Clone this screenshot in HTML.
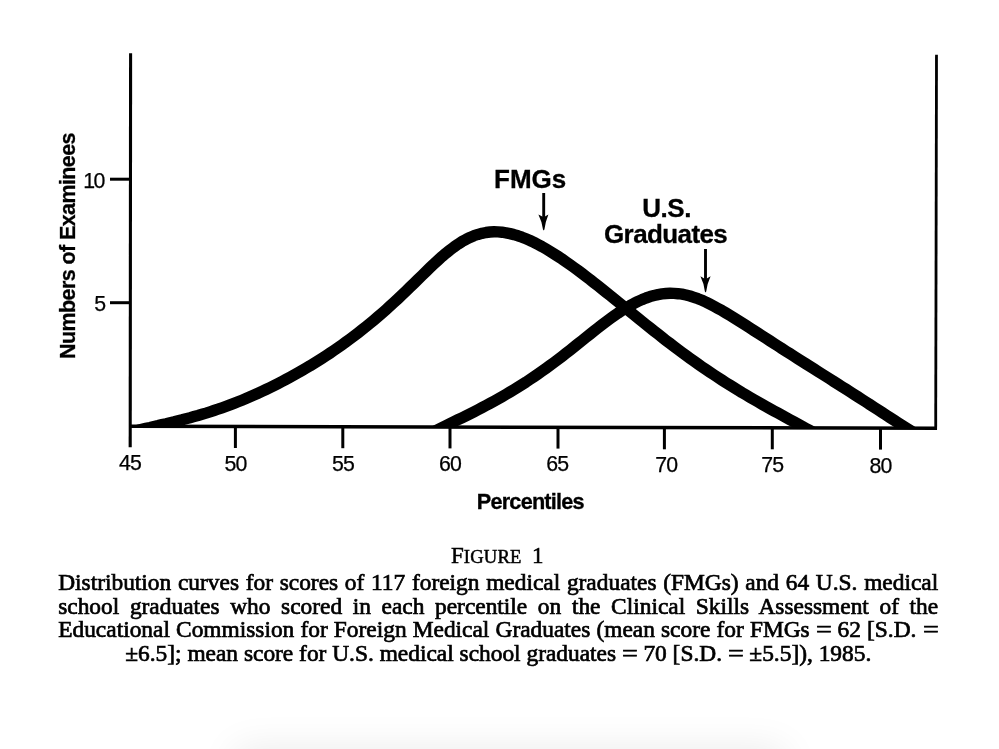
<!DOCTYPE html>
<html lang="en">
<head>
<meta charset="utf-8">
<title>Figure 1</title>
<style>
html,body{margin:0;padding:0;background:#fff;}
body{width:999px;height:749px;position:relative;overflow:hidden;color:#000;}
#page{position:absolute;left:0;top:0;width:999px;height:749px;filter:blur(0.45px);}
#chart{position:absolute;left:0;top:0;width:999px;height:749px;}
.sans{font-family:"Liberation Sans",sans-serif;}
.serif{font-family:"Liberation Serif",serif;}
.tick{position:absolute;font-family:"Liberation Sans",sans-serif;font-size:21.3px;line-height:20px;white-space:nowrap;letter-spacing:-0.8px;-webkit-text-stroke:0.25px #000;}
.xt{width:60px;text-align:center;top:452px;}
.yt{width:40px;text-align:right;}
.lab{position:absolute;font-family:"Liberation Sans",sans-serif;font-weight:bold;white-space:nowrap;-webkit-text-stroke:0.3px #000;}
.cap{position:absolute;font-family:"Liberation Serif",serif;font-size:23.4px;line-height:24px;white-space:nowrap;left:58.2px;width:880px;-webkit-text-stroke:0.7px #000;text-align:justify;text-align-last:justify;}
.eq{display:inline-block;width:15.6px;transform:scaleX(1.2);transform-origin:0 50%;text-align:left;}
#shadow{position:absolute;left:244px;top:757px;width:532px;height:30px;background:#ccc;box-shadow:0 0 38px 8px rgba(0,0,0,0.085);}
</style>
</head>
<body>
<div id="shadow"></div>
<div id="page">
<svg id="chart" viewBox="0 0 999 749">
  <defs><clipPath id="cp"><path d="M0 0 H999 V428 L0 426 Z"/></clipPath></defs>
  <!-- axes -->
  <g stroke="#000" fill="none">
    <line x1="130.6" y1="53.3" x2="130.2" y2="447.3" stroke-width="3.1"/>
    <line x1="936.5" y1="54.8" x2="935.7" y2="429.6" stroke-width="2.8"/>
    <line x1="129" y1="426.3" x2="937" y2="428.2" stroke-width="3.5"/>
    <line x1="110" y1="179.2" x2="130" y2="179.2" stroke-width="3"/>
    <line x1="110" y1="302.7" x2="130" y2="302.7" stroke-width="3"/>
    <g stroke-width="3">
      <line x1="235.4" y1="426" x2="235.4" y2="448"/>
      <line x1="342.8" y1="426" x2="342.8" y2="448.2"/>
      <line x1="450" y1="426" x2="450" y2="448.4"/>
      <line x1="558" y1="426" x2="558" y2="448.6"/>
      <line x1="664.4" y1="426" x2="664.4" y2="449.3"/>
      <line x1="772.3" y1="427" x2="772.3" y2="449.3"/>
      <line x1="880.5" y1="427" x2="880.5" y2="449.6"/>
    </g>
  </g>
  <g clip-path="url(#cp)" stroke="#000" stroke-width="11.4" fill="none" stroke-linejoin="round">
    <path d="M110.0 438.8 L114.0 437.4 L118.0 436.1 L122.0 434.8 L126.0 433.7 L130.0 432.5 L134.0 431.5 L138.0 430.4 L142.0 429.4 L146.0 428.4 L150.0 427.5 L154.0 426.5 L158.0 425.6 L162.0 424.6 L166.0 423.7 L170.0 422.7 L174.0 421.8 L178.0 420.8 L182.0 419.8 L186.0 418.7 L190.0 417.7 L194.0 416.6 L198.0 415.5 L202.0 414.3 L206.0 413.1 L210.0 411.8 L214.0 410.5 L218.0 409.2 L222.0 407.8 L226.0 406.4 L230.0 404.9 L234.0 403.4 L238.0 401.8 L242.0 400.2 L246.0 398.5 L250.0 396.8 L254.0 395.1 L258.0 393.3 L262.0 391.4 L266.0 389.5 L270.0 387.6 L274.0 385.6 L278.0 383.6 L282.0 381.5 L286.0 379.4 L290.0 377.2 L294.0 375.0 L298.0 372.8 L302.0 370.5 L306.0 368.1 L310.0 365.8 L314.0 363.3 L318.0 360.8 L322.0 358.3 L326.0 355.7 L330.0 353.1 L334.0 350.4 L338.0 347.6 L342.0 344.8 L346.0 341.9 L350.0 339.0 L354.0 336.0 L358.0 332.9 L362.0 329.8 L366.0 326.6 L370.0 323.4 L374.0 320.1 L378.0 316.7 L382.0 313.2 L386.0 309.7 L390.0 306.1 L394.0 302.4 L398.0 298.7 L402.0 294.9 L406.0 291.1 L410.0 287.2 L414.0 283.3 L418.0 279.4 L422.0 275.5 L426.0 271.6 L430.0 267.7 L434.0 263.9 L438.0 260.2 L442.0 256.6 L446.0 253.2 L450.0 250.0 L454.0 247.0 L458.0 244.2 L462.0 241.6 L466.0 239.4 L470.0 237.4 L474.0 235.7 L478.0 234.4 L482.0 233.3 L486.0 232.5 L490.0 232.0 L494.0 231.8 L498.0 231.9 L502.0 232.2 L506.0 232.8 L510.0 233.6 L514.0 234.6 L518.0 235.8 L522.0 237.2 L526.0 238.8 L530.0 240.5 L534.0 242.4 L538.0 244.5 L542.0 246.6 L546.0 248.9 L550.0 251.3 L554.0 253.8 L558.0 256.4 L562.0 259.0 L566.0 261.8 L570.0 264.6 L574.0 267.5 L578.0 270.4 L582.0 273.4 L586.0 276.5 L590.0 279.5 L594.0 282.7 L598.0 285.8 L602.0 289.0 L606.0 292.2 L610.0 295.4 L614.0 298.7 L618.0 301.9 L622.0 305.2 L626.0 308.4 L630.0 311.7 L634.0 314.9 L638.0 318.2 L642.0 321.4 L646.0 324.6 L650.0 327.8 L654.0 331.0 L658.0 334.1 L662.0 337.3 L666.0 340.4 L670.0 343.4 L674.0 346.5 L678.0 349.5 L682.0 352.5 L686.0 355.4 L690.0 358.3 L694.0 361.2 L698.0 364.0 L702.0 366.8 L706.0 369.5 L710.0 372.2 L714.0 374.9 L718.0 377.5 L722.0 380.1 L726.0 382.7 L730.0 385.2 L734.0 387.7 L738.0 390.1 L742.0 392.6 L746.0 394.9 L750.0 397.3 L754.0 399.6 L758.0 401.9 L762.0 404.2 L766.0 406.4 L770.0 408.7 L774.0 410.9 L778.0 413.1 L782.0 415.3 L786.0 417.5 L790.0 419.7 L794.0 421.8 L798.0 424.0 L802.0 426.2 L806.0 428.4 L810.0 430.6 L814.0 432.9 L818.0 435.2 L822.0 437.5"/>
    <path d="M410.0 444.1 L414.0 441.9 L418.0 439.7 L422.0 437.6 L426.0 435.5 L430.0 433.5 L434.0 431.5 L438.0 429.5 L442.0 427.5 L446.0 425.6 L450.0 423.6 L454.0 421.7 L458.0 419.7 L462.0 417.8 L466.0 415.8 L470.0 413.8 L474.0 411.8 L478.0 409.7 L482.0 407.6 L486.0 405.5 L490.0 403.4 L494.0 401.2 L498.0 399.0 L502.0 396.7 L506.0 394.4 L510.0 392.0 L514.0 389.6 L518.0 387.1 L522.0 384.6 L526.0 382.1 L530.0 379.4 L534.0 376.7 L538.0 374.0 L542.0 371.2 L546.0 368.3 L550.0 365.4 L554.0 362.5 L558.0 359.5 L562.0 356.4 L566.0 353.3 L570.0 350.2 L574.0 347.0 L578.0 343.8 L582.0 340.6 L586.0 337.4 L590.0 334.2 L594.0 331.1 L598.0 327.9 L602.0 324.8 L606.0 321.8 L610.0 318.8 L614.0 315.9 L618.0 313.1 L622.0 310.5 L626.0 308.0 L630.0 305.6 L634.0 303.4 L638.0 301.4 L642.0 299.6 L646.0 298.0 L650.0 296.6 L654.0 295.5 L658.0 294.6 L662.0 293.9 L666.0 293.5 L670.0 293.3 L674.0 293.4 L678.0 293.7 L682.0 294.2 L686.0 295.0 L690.0 296.0 L694.0 297.3 L698.0 298.7 L702.0 300.3 L706.0 302.1 L710.0 304.1 L714.0 306.2 L718.0 308.4 L722.0 310.6 L726.0 313.0 L730.0 315.4 L734.0 317.9 L738.0 320.4 L742.0 322.9 L746.0 325.4 L750.0 328.0 L754.0 330.6 L758.0 333.1 L762.0 335.7 L766.0 338.3 L770.0 340.9 L774.0 343.5 L778.0 346.0 L782.0 348.6 L786.0 351.2 L790.0 353.7 L794.0 356.3 L798.0 358.8 L802.0 361.3 L806.0 363.9 L810.0 366.4 L814.0 368.9 L818.0 371.5 L822.0 374.0 L826.0 376.5 L830.0 379.0 L834.0 381.6 L838.0 384.1 L842.0 386.7 L846.0 389.2 L850.0 391.8 L854.0 394.3 L858.0 396.9 L862.0 399.5 L866.0 402.0 L870.0 404.6 L874.0 407.2 L878.0 409.8 L882.0 412.4 L886.0 415.0 L890.0 417.6 L894.0 420.1 L898.0 422.7 L902.0 425.3 L906.0 427.8 L910.0 430.4 L914.0 432.9 L918.0 435.4"/>
  </g>
  <!-- arrows -->
  <g stroke="#000" stroke-width="2" fill="#000">
    <line x1="543.7" y1="193" x2="543.7" y2="219" stroke-width="2.9"/>
    <path d="M538.4 214.4 Q542 221.5 543 229.6 Q543.7 231.2 544.4 229.6 Q545.4 221.5 548.4 214.4 L543.7 217.3 Z" stroke="none"/>
    <line x1="705.5" y1="249" x2="705.5" y2="281" stroke-width="2.9"/>
    <path d="M700.4 276.3 Q704 283.5 704.9 291.6 Q705.5 293.2 706.2 291.6 Q707.2 283.5 710.6 276.3 L705.5 279.2 Z" stroke="none"/>
  </g>
</svg>

<div class="tick xt" style="left:100px;top:453.2px;">45</div>
<div class="tick xt" style="left:205.5px;top:453.6px;">50</div>
<div class="tick xt" style="left:313px;top:454px;">55</div>
<div class="tick xt" style="left:420px;top:454.4px;">60</div>
<div class="tick xt" style="left:527.3px;top:454.4px;">65</div>
<div class="tick xt" style="left:636.2px;top:454.6px;">70</div>
<div class="tick xt" style="left:742.2px;top:455.2px;">75</div>
<div class="tick xt" style="left:850.5px;top:455.8px;">80</div>
<div class="tick yt" style="left:63.6px;top:170.8px;letter-spacing:-1.7px;">10</div>
<div class="tick yt" style="left:65.3px;top:294.3px;">5</div>

<div class="lab" style="font-size:21.5px;line-height:20px;letter-spacing:-0.6px;left:68.3px;top:246px;width:0;height:0;"><div style="position:absolute;left:0;top:0;transform:translate(-50%,-50%) rotate(-90deg);">Numbers of Examinees</div></div>

<div class="lab" style="font-size:26px;line-height:25px;left:494px;top:167px;">FMGs</div>
<div class="lab" style="font-size:26px;letter-spacing:-0.5px;line-height:24px;left:642.3px;top:195.8px;">U.S.</div>
<div class="lab" style="font-size:26px;letter-spacing:-0.6px;line-height:24px;left:604px;top:221.7px;">Graduates</div>
<div class="lab" style="font-size:21.7px;letter-spacing:-0.8px;line-height:20px;left:476.8px;top:492.3px;">Percentiles</div>

<div class="serif" style="position:absolute;left:451px;top:544px;font-size:23px;line-height:24px;white-space:nowrap;-webkit-text-stroke:0.5px #000;">F<span style="font-size:18.6px;letter-spacing:0.2px;">IGURE</span><span style="letter-spacing:-0.6px;">&nbsp; </span>1</div>
<div class="cap" style="top:569.8px;">Distribution curves for scores of 117 foreign medical graduates (FMGs) and 64 U.S. medical</div>
<div class="cap" style="top:593.8px;">school graduates who scored in each percentile on the Clinical Skills Assessment of the</div>
<div class="cap" style="top:617.3px;">Educational Commission for Foreign Medical Graduates (mean score for FMGs <span class="eq">=</span> 62 [S.D. <span class="eq">=</span></div>
<div class="cap" style="top:641.3px;left:125.2px;width:746px;">±6.5]; mean score for U.S. medical school graduates <span class="eq">=</span> 70 [S.D. <span class="eq">=</span> ±5.5]), 1985.</div>
</div>
</body>
</html>
